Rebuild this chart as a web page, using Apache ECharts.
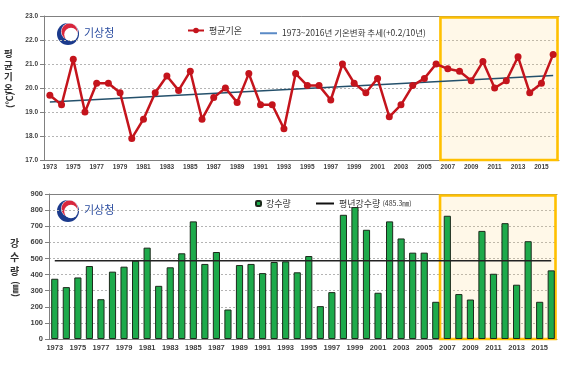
<!DOCTYPE html>
<html><head><meta charset="utf-8">
<script src="https://cdn.jsdelivr.net/npm/echarts@6/dist/echarts.min.js"></script>
<style>html,body{margin:0;padding:0;background:#fff}#c{width:564px;height:368px}</style>
</head><body><div id="c"></div>
<script>
const years = ['1973','1974','1975','1976','1977','1978','1979','1980','1981','1982','1983','1984','1985','1986','1987','1988','1989','1990','1991','1992','1993','1994','1995','1996','1997','1998','1999','2000','2001','2002','2003','2004','2005','2006','2007','2008','2009','2010','2011','2012','2013','2014','2015','2016'];
const temperature = [19.7,19.3,21.2,19.0,20.2,20.2,19.8,17.9,18.7,19.8, 20.5,19.9,20.7,18.7,19.6,20.0,19.4,20.6,19.3,19.3, 18.3,20.6,20.1,20.1,19.5,21.0,20.2,19.8,20.4,18.8, 19.3,20.1,20.4,21.0,20.8,20.7,20.3,21.1,20.0,20.3, 21.3,19.8,20.2,21.4];
const trendStart = 19.42, trendEnd = 20.52;
const precipitation = [374,322,382,453,247,418,449,486,567,330, 445,532,730,466,540,183,459,466,409,478, 482,414,515,204,291,771,819,678,287,730, 624,536,536,231,765,279,245,671,405,719, 337,607,231,426];
const normalPrecip = 485.3;
const highlightStart = '2007', highlightEnd = '2016';
const tempTicks = {min:17, max:23, interval:1};
const precipTicks = {min:0, max:900, interval:100};
const names = {temp:'평균기온', trend:'1973~2016년 기온변화 추세(+0.2/10년)', precip:'강수량', normal:'평년강수량'};

const n = years.length;
const trendData = years.map((y,i)=> i===0 ? trendStart : (i===n-1 ? trendEnd : null));
const normalData = years.map((y,i)=> (i===0 || i===n-1) ? normalPrecip : null);
const hl = [[years.indexOf(highlightStart), years.indexOf(highlightEnd)]];

const KR = "'Noto Sans CJK KR', sans-serif";
const NUM = "'Liberation Sans', Arial, sans-serif";

function boxRender(params, api){
  const cs = params.coordSys;
  const a = api.coord([api.value(0), 0])[0];
  const b = api.coord([api.value(1), 0])[0];
  const bw = api.size([1, 0])[0];
  const x0 = a - bw/2 - 1.5, x1 = b + bw/2;
  return {type:'rect', shape:{x:x0, y:cs.y+1.5, width:x1-x0-1.5, height:cs.height-1.5},
    style:{fill:'rgba(255,215,120,0.17)', stroke:'#FFC000', lineWidth:2.6}};
}

function xAxisBase(gi, labelSize, margin){
  return {type:'category', gridIndex:gi, data:years, boundaryGap:true,
    axisLine:{lineStyle:{color:'#808080', width:1}}, axisTick:{show:false},
    axisLabel:{interval:1, fontSize:labelSize, fontFamily:NUM, fontWeight:'bold', color:'#404040', margin:margin}};
}
function frameAxis(gi){
  return {type:'category', gridIndex:gi, data:years, position:'top', boundaryGap:true,
    axisLine:{lineStyle:{color:'#808080', width:1}}, axisTick:{show:false}, axisLabel:{show:false}};
}
function yAxisBase(gi, t, fmt, size){
  return {type:'value', gridIndex:gi, min:t.min, max:t.max, interval:t.interval,
    axisLine:{show:true, lineStyle:{color:'#808080'}}, axisTick:{show:true, length:4, lineStyle:{color:'#808080'}},
    splitLine:{lineStyle:{color:'#b4b4b4', type:[2,2]}},
    axisLabel:{formatter:fmt, fontSize:size, fontFamily:NUM, fontWeight:'bold', color:'#404040', margin:6}};
}

function logo(cx, cy){
  return [
    {type:'circle', shape:{cx:cx, cy:cy, r:11}, style:{fill:'#1B3A8C'}},
    {type:'circle', shape:{cx:cx+1.5, cy:cy-2.5, r:8.5}, style:{fill:'#fff'}},
    {type:'circle', shape:{cx:cx+1.5, cy:cy-2.5, r:8}, style:{fill:'#D7263D'}},
    {type:'circle', shape:{cx:cx+3, cy:cy+0.5, r:6.8}, style:{fill:'#fff'}},
    {type:'text', left:cx+16, top:cy-7, style:{text:'기상청', fill:'#2B4DA0', fontSize:11, fontFamily:KR}}
  ];
}

const chart = echarts.init(document.getElementById('c'), null, {renderer:'canvas'});
chart.setOption({
  animation:false,
  backgroundColor:'#fff',
  grid:[{left:44, right:5, top:16, height:144}, {left:49, right:7, top:194, height:145}],
  xAxis:[xAxisBase(0, 6.5, 4), xAxisBase(1, 7.5, 5), frameAxis(0), frameAxis(1)],
  yAxis:[yAxisBase(0, tempTicks, v=>v.toFixed(1), 6.5), yAxisBase(1, precipTicks, v=>String(v), 7.5)],
  legend:[
    {data:[names.temp], left:182, top:21, itemWidth:16, itemHeight:7, itemGap:10, textStyle:{fontSize:9, fontFamily:KR, color:'#333'}},
    {data:[{name:names.trend, icon:'rect', itemStyle:{color:'#5A8AC6'}}], left:255, top:24, itemWidth:17, itemHeight:2, textStyle:{fontSize:8.5, fontFamily:KR, color:'#333'}},
    {data:[names.precip], left:250, top:194, itemWidth:5, itemHeight:5, textStyle:{fontSize:9, fontFamily:KR, color:'#333'}},
    {data:[{name:names.normal, icon:'rect', itemStyle:{color:'#111'}}], left:311, top:194, itemWidth:18, itemHeight:2,
      formatter: nm => '{a|' + nm + '} {b|(' + normalPrecip + '㎜)}',
      textStyle:{fontSize:9, fontFamily:KR, color:'#333', rich:{a:{fontSize:9, fontFamily:KR}, b:{fontSize:7, fontFamily:KR}}}}
  ],
  series:[
    {type:'custom', xAxisIndex:0, yAxisIndex:0, data:hl, renderItem:boxRender, z:1, silent:true, encode:{x:[0,1]}},
    {type:'custom', xAxisIndex:1, yAxisIndex:1, data:hl, renderItem:boxRender, z:1, silent:true, encode:{x:[0,1]}},
    {name:names.trend, type:'line', xAxisIndex:0, yAxisIndex:0, data:trendData, connectNulls:true, symbol:'none',
      lineStyle:{color:'#24506B', width:1.5}, itemStyle:{color:'#24506B'}, z:3},
    {name:names.temp, type:'line', xAxisIndex:0, yAxisIndex:0, data:temperature, symbol:'circle', symbolSize:7,
      lineStyle:{color:'#C4141C', width:2.5}, itemStyle:{color:'#C4141C'}, z:4},
    {name:names.precip, type:'bar', xAxisIndex:1, yAxisIndex:1, data:precipitation, barWidth:'62%',
      itemStyle:{color:'#1DAA4B', borderColor:'#1C2A1C', borderWidth:1}, z:3},
    {name:names.normal, type:'line', xAxisIndex:1, yAxisIndex:1, data:normalData, connectNulls:true, symbol:'none',
      lineStyle:{color:'#222', width:1.5}, itemStyle:{color:'#222'}, z:4}
  ],
  graphic:[
    ...logo(68, 34),
    ...logo(68, 211),
    {type:'text', left:4, top:48, style:{text:'평\n균\n기\n온', fill:'#333', fontSize:9.5, fontWeight:'bold', fontFamily:KR, lineHeight:11.5, align:'center'}},
    {type:'text', x:10, y:100, rotation:Math.PI/2, style:{text:'(℃)', fill:'#333', fontSize:9, fontWeight:'bold', fontFamily:KR, align:'center', verticalAlign:'middle'}},
    {type:'text', left:10, top:236, style:{text:'강\n수\n량', fill:'#333', fontSize:10, fontWeight:'bold', fontFamily:KR, lineHeight:14, align:'center'}},
    {type:'text', x:15, y:289, rotation:Math.PI/2, style:{text:'(㎜)', fill:'#333', fontSize:9, fontWeight:'bold', fontFamily:KR, align:'center', verticalAlign:'middle'}}
  ]
});
</script></body></html>
